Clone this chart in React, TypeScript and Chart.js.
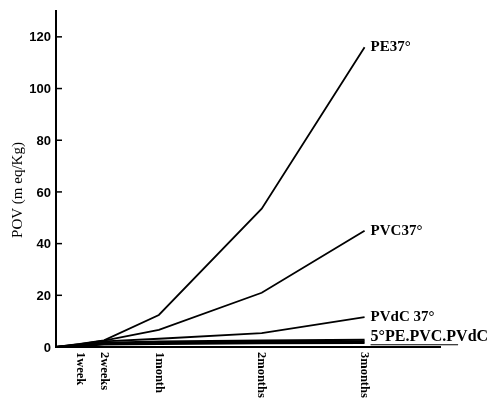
import React, { useEffect, useRef } from "react";
import { Chart, registerables } from "chart.js";

Chart.register(...registerables);

const days = [0, 7, 14, 30, 60, 90];
const tickDays = [7, 14, 30, 60, 90];
const tickLabels = ["1week", "2weeks", "1month", "2months", "3months"];
const yTicks = [0, 20, 40, 60, 80, 100, 120];

const pe37 = [0, 1.2, 2.6, 12.4, 53.5, 116];
const pvc37 = [0, 1.1, 2.5, 6.6, 21, 45];
const pvdc37 = [0, 0.9, 2.2, 3.2, 5.4, 11.6];
const pe5 = [0, 0.7, 1.6, 2.1, 2.5, 2.8];
const pvc5 = [0, 0.5, 1.3, 1.6, 2.0, 2.2];
const pvdc5 = [0, 0.4, 1.0, 1.2, 1.5, 1.6];

const seriesNames = ["PE37°", "PVC37°", "PVdC 37°", "5°PE.PVC.PVdC", "", ""];
const seriesValues = [pe37, pvc37, pvdc37, pe5, pvc5, pvdc5];

const serif = "'Liberation Serif', 'DejaVu Serif', serif";
const sans = "'Liberation Sans', Arial, sans-serif";

const overlay = {
  id: "overlay",
  afterDraw(chart: any) {
    const ctx = chart.ctx;
    const xs = chart.scales.x;
    const ys = chart.scales.y;
    const x0 = xs.left;
    ctx.save();
    ctx.fillStyle = "#000";
    ctx.strokeStyle = "#000";
    ctx.lineWidth = 1.5;
    ctx.font = `bold 13px ${sans}`;
    ctx.textAlign = "right";
    ctx.textBaseline = "middle";
    yTicks.forEach((v) => {
      const y = ys.getPixelForValue(v);
      if (v > 0) {
        ctx.beginPath();
        ctx.moveTo(x0, y);
        ctx.lineTo(x0 + 6, y);
        ctx.stroke();
      }
      ctx.fillText(String(v), x0 - 5, y + 1);
    });
    ctx.font = `bold 12.5px ${serif}`;
    tickDays.forEach((d, i) => {
      const x = xs.getPixelForValue(d);
      ctx.save();
      ctx.translate(x, ys.bottom + 5);
      ctx.rotate(Math.PI / 2);
      ctx.textAlign = "left";
      ctx.textBaseline = "middle";
      ctx.fillText(tickLabels[i], 0, 0);
      ctx.restore();
    });
    ctx.save();
    ctx.font = `15px ${serif}`;
    ctx.translate(18, 190);
    ctx.rotate(-Math.PI / 2);
    ctx.textAlign = "center";
    ctx.textBaseline = "middle";
    ctx.fillText("POV (m eq/Kg)", 0, 0);
    ctx.restore();
    ctx.textAlign = "left";
    ctx.textBaseline = "middle";
    seriesNames.forEach((name, i) => {
      if (!name) return;
      ctx.font = `bold ${i === 3 ? 16 : 15}px ${serif}`;
      const vals = seriesValues[i];
      const last = vals.length - 1;
      const x = xs.getPixelForValue(days[last]) + 6;
      let y = ys.getPixelForValue(vals[last]);
      if (i === 3) y -= 3;
      ctx.fillText(name, x, y);
      if (i === 3) {
        const w = ctx.measureText(name).width;
        ctx.lineWidth = 1.2;
        ctx.beginPath();
        ctx.moveTo(x, y + 8);
        ctx.lineTo(x + w - 30, y + 8);
        ctx.stroke();
      }
    });
    ctx.restore();
  },
};

export default function App() {
  const ref = useRef<HTMLCanvasElement>(null);
  useEffect(() => {
    if (!ref.current) return;
    const chart = new Chart(ref.current, {
      type: "line",
      data: {
        datasets: seriesValues.map((vals, i) => ({
          label: seriesNames[i] || `s${i}`,
          data: days.map((d, j) => ({ x: d, y: vals[j] })),
          borderColor: "#000",
          borderWidth: i >= 3 ? 2.2 : 1.8,
          pointRadius: 0,
          tension: 0,
          fill: false,
        })),
      },
      plugins: [overlay],
      options: {
        animation: false,
        responsive: false,
        events: [],
        layout: { padding: { left: 56, right: 57, top: 11, bottom: 55 } },
        plugins: { legend: { display: false }, tooltip: { enabled: false } },
        scales: {
          x: {
            type: "linear",
            min: 0,
            max: 112,
            grid: { display: false, drawTicks: false },
            border: { display: true, color: "#000", width: 2 },
            ticks: { display: false },
          },
          y: {
            type: "linear",
            min: 0,
            max: 130,
            grid: { display: false, drawTicks: false },
            border: { display: true, color: "#000", width: 2 },
            ticks: { display: false },
          },
        },
      },
    });
    return () => chart.destroy();
  }, []);
  return (
    <div style={{ position: "fixed", left: 0, top: 0, width: 497, height: 402, background: "#fff" }}>
      <canvas ref={ref} width={497} height={402} style={{ width: 497, height: 402 }} />
    </div>
  );
}
